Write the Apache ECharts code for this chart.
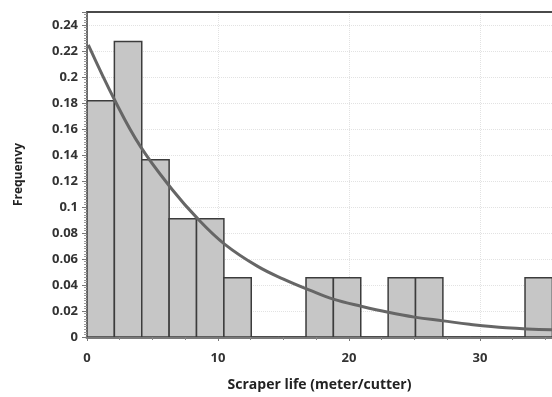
<!DOCTYPE html>
<html>
<head>
<meta charset="utf-8">
<script src="https://cdn.jsdelivr.net/npm/echarts@6/dist/echarts.min.js"></script>
<style>html,body{margin:0;padding:0;background:#fff;}#chart{width:552px;height:397px;}</style>
</head>
<body>
<div id="chart"></div>
<script>
// Histogram bins (meter/cutter) and relative frequencies
var binLow  = [0, 2.09, 4.18, 6.27, 8.36, 10.45, 12.54, 14.63, 16.72, 18.81, 20.90, 22.99, 25.08, 27.17, 29.26, 31.35, 33.44];
var binHigh = [2.09, 4.18, 6.27, 8.36, 10.45, 12.54, 14.63, 16.72, 18.81, 20.90, 22.99, 25.08, 27.17, 29.26, 31.35, 33.44, 35.53];
var freq    = [0.1818, 0.2273, 0.1364, 0.0909, 0.0909, 0.0455, 0, 0, 0.0455, 0.0455, 0, 0.0455, 0.0455, 0, 0, 0, 0.0455];
// Fitted curve points
var curveX = [0.1, 2.1, 4.05, 6.5, 8.5, 10.5, 13.0, 15.0, 17.0, 18.8, 21.0, 23.0, 25.0, 27.2, 29.2, 32.0, 35.9];
var curveY = [0.2247, 0.1825, 0.147, 0.1135, 0.0905, 0.0715, 0.0545, 0.0445, 0.0360, 0.0291, 0.0235, 0.0190, 0.0153, 0.0124, 0.0098, 0.0072, 0.0054];
var xTicks = [0, 10, 20, 30];
var yTicks = [0, 0.02, 0.04, 0.06, 0.08, 0.1, 0.12, 0.14, 0.16, 0.18, 0.2, 0.22, 0.24];

var bars = binLow.map(function (lo, i) { return [lo, binHigh[i], freq[i]]; });
var curve = curveX.map(function (x, i) { return [x, curveY[i]]; });

var X_MAX = 35.5;
var chart = echarts.init(document.getElementById('chart'));
var font = '"Open Sans", "Liberation Sans", sans-serif';
chart.setOption({
  animation: false,
  grid: { left: 87, right: 0, top: 12, bottom: 59 },
  xAxis: [{
    type: 'value', min: 0, max: X_MAX, interval: 10,
    name: 'Scraper life (meter/cutter)', nameLocation: 'middle', nameGap: 41,
    nameTextStyle: { fontFamily: font, fontWeight: 'bold', fontSize: 14, color: '#222' },
    axisLine: { show: true, onZero: false, lineStyle: { color: '#7a7a7a', width: 3 } },
    axisTick: { show: true, length: 4, lineStyle: { color: '#777', width: 1 } },
    minorTick: { show: true, splitNumber: 4, length: 3, lineStyle: { color: '#888' } },
    axisLabel: { fontFamily: font, fontWeight: 'bold', fontSize: 13, color: '#333', margin: 15, showMaxLabel: false,
      formatter: function (v) { return xTicks.indexOf(v) >= 0 ? String(v) : ''; } },
    splitLine: { show: true, lineStyle: { color: '#e2e2e2', type: 'dotted', width: 1 } }
  }, {
    type: 'value', min: 0, max: X_MAX, position: 'top',
    axisLine: { show: true, onZero: false, lineStyle: { color: '#4a4a4a', width: 2 } },
    axisTick: { show: false }, axisLabel: { show: false }, splitLine: { show: false }
  }],
  yAxis: {
    type: 'value', min: 0, max: 0.25, interval: 0.02,
    name: 'Frequenvy', nameLocation: 'middle', nameGap: 62,
    nameTextStyle: { fontFamily: font, fontWeight: 'bold', fontSize: 12, color: '#222' },
    axisLine: { show: true, lineStyle: { color: '#6a6a6a', width: 2 } },
    axisTick: { show: true, length: 5, lineStyle: { color: '#777', width: 1 } },
    minorTick: { show: true, splitNumber: 10, length: 3, lineStyle: { color: '#999' } },
    axisLabel: { fontFamily: font, fontWeight: 'bold', fontSize: 13, color: '#333', margin: 9, showMaxLabel: false,
      formatter: function (v) {
        for (var i = 0; i < yTicks.length; i++) { if (Math.abs(yTicks[i] - v) < 1e-9) return String(yTicks[i]); }
        return '';
      } },
    splitLine: { show: true, lineStyle: { color: '#e2e2e2', type: 'dotted', width: 1 } }
  },
  series: [
    {
      type: 'custom',
      data: bars,
      clip: true,
      encode: { x: [0, 1], y: 2 },
      renderItem: function (params, api) {
        var p0 = api.coord([api.value(0), api.value(2)]);
        var p1 = api.coord([api.value(1), 0]);
        return {
          type: 'rect',
          shape: { x: p0[0], y: p0[1], width: p1[0] - p0[0], height: p1[1] - p0[1] },
          style: { fill: '#c6c6c6', stroke: '#3c3c3c', lineWidth: 1.5 }
        };
      },
      z: 2
    },
    {
      type: 'line',
      data: curve,
      smooth: 0.4,
      showSymbol: false,
      lineStyle: { color: '#666', width: 3 },
      z: 3
    }
  ]
});
</script>
</body>
</html>
